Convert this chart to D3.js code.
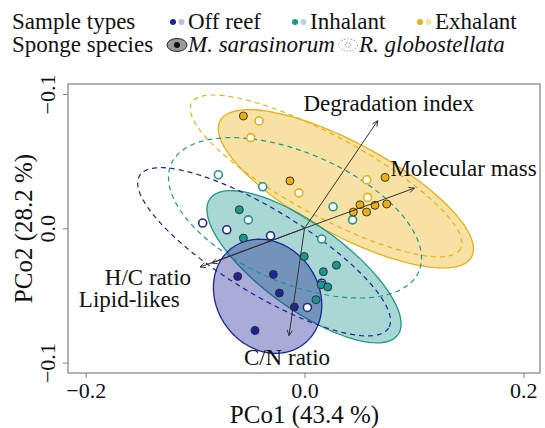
<!DOCTYPE html>
<html>
<head>
<meta charset="utf-8">
<script src="https://cdn.jsdelivr.net/npm/d3@7"></script>
<style>
  body { margin: 0; background: #fff; }
</style>
</head>
<body>
<div id="chart"></div>
<script>
// DATA
const xLim = [-0.2162, 0.2152];
const yLim = [-0.1074, 0.1077];
const xTicks = [-0.2, 0, 0.2];
const xTickLabels = ["−0.2", "0.0", "0.2"];
const yTicks = [-0.1, 0, 0.1];
const yTickLabels = ["−0.1", "0.0", "−0.1"];

const groups = ["Off reef", "Inhalant", "Exhalant"];
const species = ["M. sarasinorum", "R. globostellata"];

// sample scores [PCo1, PCo2]
const offReefM = [[-0.0611, 0.0358], [-0.0285, 0.0343], [-0.0230, 0.0482], [-0.0093, 0.0586], [-0.0452, 0.0760]];
const offReefR = [[-0.0931, -0.0039], [-0.0711, 0.0011], [-0.0311, 0.0056], [0.0026, 0.0589], [0.0157, 0.0409]];
const inhalantM = [[-0.0596, -0.0138], [-0.0559, 0.0073], [-0.0003, 0.0210], [0.0291, 0.0275], [0.0172, 0.0323], [0.0151, 0.0420], [0.0212, 0.0437], [0.0105, 0.0532]];
const inhalantR = [[-0.0788, -0.0398], [-0.0382, -0.0309], [0.0261, -0.0160], [0.0439, -0.0063], [-0.0514, -0.0063], [0.0157, 0.0080]];
const exhalantM = [[-0.0559, -0.0836], [-0.0133, -0.0353], [0.0736, -0.0379], [0.0507, -0.0175], [0.0446, -0.0121], [0.0567, -0.0121], [0.0644, -0.0171], [0.0751, -0.0181]];
const exhalantR = [[-0.0416, -0.0799], [-0.0492, -0.0675], [-0.0052, -0.0264], [0.0569, -0.0361], [0.0576, -0.0230]];

// ellipses: centre, then two conjugate semi-axes (PCo units)
const ellipseCentres = [[-0.0338, 0.0506], [-0.0370, 0.0175], [-0.0005, 0.0286], [-0.0087, -0.0078], [0.0378, -0.0294], [0.0197, -0.0390]];
const ellipseAxisA = [[0.0315, 0.0365], [0.1138, 0.0567], [0.0858, 0.0507], [0.1132, 0.0400], [0.1149, 0.0507], [0.1229, 0.0543]];
const ellipseAxisB = [[-0.0382, 0.0217], [-0.0200, 0.0266], [-0.0226, 0.0253], [-0.0237, 0.0443], [-0.0201, 0.0300], [-0.0175, 0.0261]];
const ellipseGroup = [0, 0, 1, 1, 2, 2];

// fitted variables
const vectorNames = ["Degradation index", "Molecular mass", "H/C ratio", "Lipid-likes", "C/N ratio"];
const vectorScores = [[0.0669, -0.0801], [0.1004, -0.0299], [-0.0955, 0.0288], [-0.0848, 0.0259], [-0.0142, 0.0799]];

// STYLE / LAYOUT
const width = 545, height = 428;
const box = { left: 68, right: 540, top: 84, bottom: 373 };
const serif = "Liberation Serif";
const colors = ["#1C2596", "#1B978F", "#EBB010"];
const lightColors = ["#B9BCE6", "#A8DCD8", "#F8E3A6"];
// label anchor offsets (px) from the arrow tip, and text anchor
const vectorLabelOffset = [[11, -10, "middle"], [-24, -12, "start"], [-9, 18, "end"], [-32, 44, "end"], [-2, 29, "middle"]];

const x = d3.scaleLinear().domain(xLim).range([box.left, box.right]);
const y = d3.scaleLinear().domain(yLim).range([box.top, box.bottom]);

const svg = d3.select("#chart").append("svg")
  .attr("width", width)
  .attr("height", height);

// ELLIPSES
const ellipseLine = d3.line().x(d => x(d[0])).y(d => y(d[1])).curve(d3.curveLinearClosed);
const ellipsePoints = i => d3.range(0, 360, 3).map(deg => {
  const t = deg * Math.PI / 180;
  const c = ellipseCentres[i], a = ellipseAxisA[i], b = ellipseAxisB[i];
  return [c[0] + a[0] * Math.cos(t) + b[0] * Math.sin(t), c[1] + a[1] * Math.cos(t) + b[1] * Math.sin(t)];
});

svg.append("g").selectAll("path")
  .data([4, 2, 0]) // filled ones, back to front
  .join("path")
  .attr("d", i => ellipseLine(ellipsePoints(i)))
  .attr("fill", i => colors[ellipseGroup[i]])
  .attr("fill-opacity", 0.38)
  .attr("stroke", i => colors[ellipseGroup[i]])
  .attr("stroke-width", 1.3);

svg.append("g").selectAll("path")
  .data([1, 3, 5])
  .join("path")
  .attr("d", i => ellipseLine(ellipsePoints(i)))
  .attr("fill", "none")
  .attr("stroke", i => colors[ellipseGroup[i]])
  .attr("stroke-width", 1.2)
  .attr("stroke-dasharray", "5,4");

// POINTS
const pointSets = [
  { pts: offReefR, g: 0, s: 1 }, { pts: inhalantR, g: 1, s: 1 }, { pts: exhalantR, g: 2, s: 1 },
  { pts: offReefM, g: 0, s: 0 }, { pts: inhalantM, g: 1, s: 0 }, { pts: exhalantM, g: 2, s: 0 }
];
pointSets.forEach(set => {
  svg.append("g").selectAll("circle")
    .data(set.pts)
    .join("circle")
    .attr("cx", d => x(d[0]))
    .attr("cy", d => y(d[1]))
    .attr("r", 4)
    .attr("fill", set.s === 0 ? colors[set.g] : "#fff")
    .attr("stroke", set.s === 0 ? "#2a2a2a" : colors[set.g])
    .attr("stroke-width", set.s === 0 ? 0.9 : 1.6);
});

// ARROWS
const arrows = svg.append("g").attr("stroke", "#333").attr("stroke-width", 1).attr("fill", "none");
vectorScores.forEach((v, i) => {
  const x0 = x(0), y0 = y(0), x1 = x(v[0]), y1 = y(v[1]);
  const ang = Math.atan2(y1 - y0, x1 - x0);
  const L = 6, spread = Math.PI / 7;
  const h1 = [x1 - L * Math.cos(ang - spread), y1 - L * Math.sin(ang - spread)];
  const h2 = [x1 - L * Math.cos(ang + spread), y1 - L * Math.sin(ang + spread)];
  arrows.append("path")
    .attr("d", `M${x0},${y0}L${x1},${y1}M${h1[0]},${h1[1]}L${x1},${y1}L${h2[0]},${h2[1]}`);
  const off = vectorLabelOffset[i];
  svg.append("text")
    .attr("x", x1 + off[0])
    .attr("y", y1 + off[1])
    .attr("text-anchor", off[2])
    .attr("font-size", 23)
    .attr("fill", "#111")
    .text(vectorNames[i]);
});

// BOX + AXES
svg.append("rect")
  .attr("x", box.left).attr("y", box.top)
  .attr("width", box.right - box.left).attr("height", box.bottom - box.top)
  .attr("fill", "none").attr("stroke", "#808080").attr("stroke-width", 1.2);

const xAxis = d3.axisBottom(x).tickValues(xTicks).tickSize(5).tickPadding(4)
  .tickFormat((d, i) => xTickLabels[i]);
const gx = svg.append("g").attr("transform", `translate(0,${box.bottom})`).call(xAxis);
gx.select(".domain").remove();
gx.selectAll("line").attr("stroke", "#808080");
gx.selectAll("text").attr("font-size", 22).attr("fill", "#111").attr("dy", "0.71em");

const yAxis = d3.axisLeft(y).tickValues(yTicks).tickSize(5).tickFormat((d, i) => yTickLabels[i]);
const gy = svg.append("g").attr("transform", `translate(${box.left},0)`).call(yAxis);
gy.select(".domain").remove();
gy.selectAll("line").attr("stroke", "#808080");
gy.selectAll("text")
  .attr("font-size", 22).attr("fill", "#111")
  .attr("x", null).attr("dy", null)
  .attr("text-anchor", "middle")
  .attr("transform", "translate(-13,0) rotate(-90)");

svg.append("text")
  .attr("x", (box.left + box.right) / 2 + 0.5)
  .attr("y", 423)
  .attr("text-anchor", "middle")
  .attr("font-size", 25)
  .attr("fill", "#111")
  .text("PCo1 (43.4 %)");

svg.append("text")
  .attr("transform", `translate(32,${(box.top + box.bottom) / 2}) rotate(-90)`)
  .attr("text-anchor", "middle")
  .attr("font-size", 25)
  .attr("fill", "#111")
  .text("PCo2 (28.2 %)");

// LEGEND
const legend = svg.append("g").attr("font-size", 23).attr("fill", "#111");
legend.append("text").attr("x", 12).attr("y", 29).text("Sample types");
const legX = [173, 295, 420];
groups.forEach((g, i) => {
  legend.append("circle").attr("cx", legX[i]).attr("cy", 22).attr("r", 3).attr("fill", colors[i]);
  legend.append("circle").attr("cx", legX[i] + 8.5).attr("cy", 22).attr("r", 3).attr("fill", lightColors[i]);
  legend.append("text").attr("x", legX[i] + 15).attr("y", 29).text(g);
});

legend.append("text").attr("x", 12).attr("y", 51.5).text("Sponge species");
legend.append("ellipse").attr("cx", 177).attr("cy", 45).attr("rx", 10).attr("ry", 6.5)
  .attr("fill", "#9a9a9a").attr("stroke", "#222").attr("stroke-width", 1);
legend.append("circle").attr("cx", 177).attr("cy", 45).attr("r", 3).attr("fill", "#111");
legend.append("text").attr("x", 188).attr("y", 51.5).attr("font-style", "italic").text(species[0]);
legend.append("ellipse").attr("cx", 348).attr("cy", 45).attr("rx", 9.5).attr("ry", 6)
  .attr("fill", "none").attr("stroke", "#999").attr("stroke-width", 1).attr("stroke-dasharray", "1.5,1.5");
legend.append("circle").attr("cx", 348).attr("cy", 45).attr("r", 2.4)
  .attr("fill", "none").attr("stroke", "#777").attr("stroke-width", 0.9).attr("stroke-dasharray", "1.2,1");
legend.append("text").attr("x", 359).attr("y", 51.5).attr("font-style", "italic").text(species[1]);

// serif everywhere, set inline so it sticks
svg.selectAll("text").style("font-family", serif);
</script>
</body>
</html>
